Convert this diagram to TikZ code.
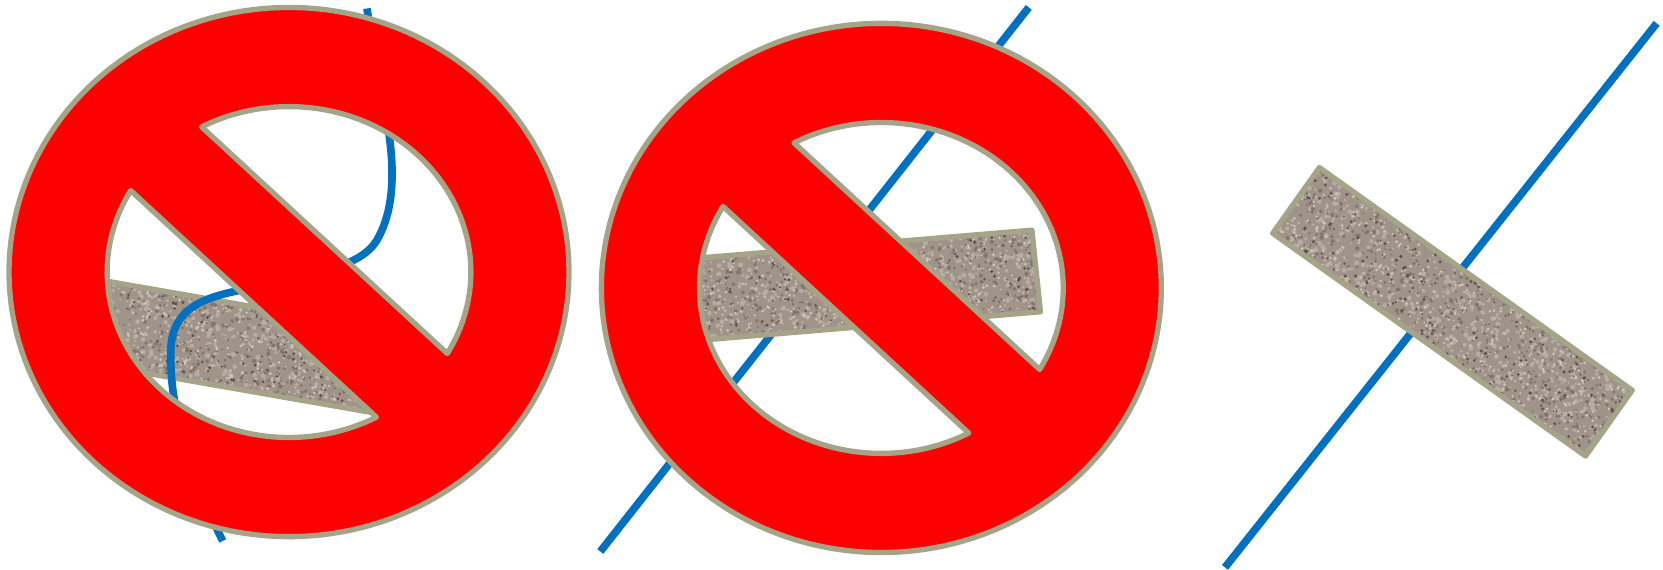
\documentclass[tikz,border=0pt]{standalone}
\usepackage{tikz}
\definecolor{ringedge}{HTML}{A6A488}
\definecolor{banred}{HTML}{FF0000}
\definecolor{wire}{HTML}{0070C0}
\definecolor{stonebase}{HTML}{A0938A}
\definecolor{stonelight}{HTML}{B8ADA2}
\definecolor{stonepale}{HTML}{CDC4BA}
\definecolor{stonemid}{HTML}{82766C}
\definecolor{stonedark}{HTML}{5E5248}
\tikzset{
  wireline/.style={draw=wire,line width=7.2pt,line cap=butt},
  edgeline/.style={draw=ringedge,line width=5pt,line join=round},
  banfill/.style={fill=banred,even odd rule,draw=ringedge,line width=5pt,line join=round}
}
% scatter #2 blobs of colour #1, radii #3 to #3+#4, over the current strip
\newcommand{\blobbatch}[4]{%
  \begin{scope}
    \pgfsetfillcolor{#1}%
    \foreach \n in {1,...,#2}{%
      \pgfmathsetmacro{\uu}{rnd}%
      \pgfmathsetmacro{\vv}{rnd}%
      \pgfmathsetmacro{\qx}{\sAx+\uu*(\sBx-\sAx)+\vv*(\sDx-\sAx)}%
      \pgfmathsetmacro{\qy}{\sAy+\uu*(\sBy-\sAy)+\vv*(\sDy-\sAy)}%
      \pgfmathsetmacro{\rr}{#3+#4*rnd}%
      \pgfpathcircle{\pgfpointxy{\qx}{\qy}}{\rr pt}%
    }%
    \pgfusepath{fill}%
  \end{scope}%
}
% corners A B C D of a stone strip, in picture coordinates
\newcommand{\stonestrip}[8]{%
  \def\sAx{#1}\def\sAy{#2}\def\sBx{#3}\def\sBy{#4}\def\sDx{#7}\def\sDy{#8}%
  \begin{scope}
    \clip (#1,#2) -- (#3,#4) -- (#5,#6) -- (#7,#8) -- cycle;
    \fill[stonebase] (#1,#2) -- (#3,#4) -- (#5,#6) -- (#7,#8) -- cycle;
    \blobbatch{stonelight}{500}{1.2}{1.2}
    \blobbatch{stonemid}{450}{0.9}{1.1}
    \blobbatch{stonepale}{450}{0.7}{0.9}
    \blobbatch{stonedark}{180}{0.8}{0.9}
  \end{scope}
  \draw[edgeline] (#1,#2) -- (#3,#4) -- (#5,#6) -- (#7,#8) -- cycle;
}
% prohibition sign centred at (#1,#2)
\newcommand{\bansign}[2]{%
  \path[banfill]
    plot[domain=0:359,samples=150,smooth] ({#1+264*cos(\x)},{#2-249.5*sin(\x)}) -- cycle
    plot[domain=118.7:-29.5,samples=80] ({#1+171.5*cos(\x)},{#2-156*sin(\x)}) -- cycle
    plot[domain=150.5:298.7,samples=80] ({#1+171.5*cos(\x)},{#2-156*sin(\x)}) -- cycle;
}
\begin{document}
\begin{tikzpicture}[x=1pt,y=-1pt]
  \useasboundingbox (0,0) rectangle (1568,537.4);
  \pgfmathsetseed{4711}
  % third group: wire and strip
  \draw[wireline] (1562,22) -- (1155,535);
  \stonestrip{1244}{158}{1539}{368}{1495}{430}{1200}{220}
  % second group
  \draw[wireline] (970,7) -- (566,520);
  \stonestrip{973}{217}{981}{294}{622}{324}{614}{247}
  \bansign{831}{271.5}
  % first group
  \stonestrip{404}{318}{391}{396}{47}{336}{60}{258}
  \draw[wireline] (346,8) .. controls (352,50) and (362,95) .. (367,128)
    .. controls (372,165) and (371,200) .. (355,227)
    .. controls (345,243) and (325,250) .. (300,258)
    .. controls (280,265) and (250,268) .. (225,274)
    .. controls (185,282) and (160,295) .. (161,335)
    .. controls (161,350) and (162,365) .. (165,380)
    .. controls (175,430) and (190,470) .. (210,510);
  \bansign{272.5}{256.5}
\end{tikzpicture}
\end{document}
